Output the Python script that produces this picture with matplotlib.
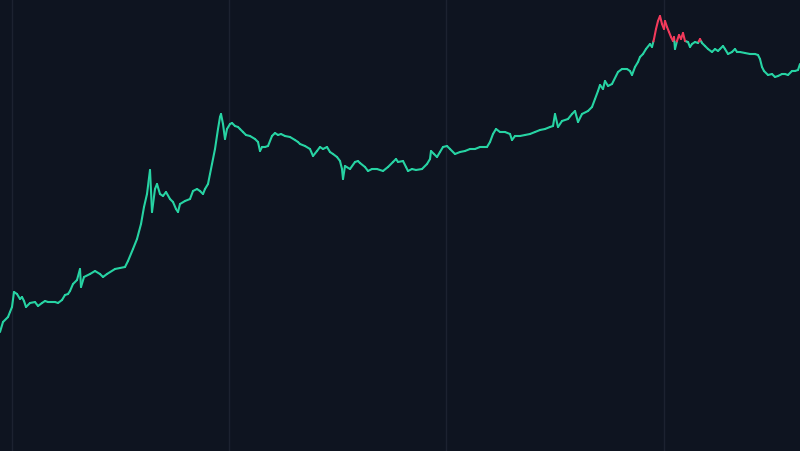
import numpy as np
import matplotlib.pyplot as plt
from matplotlib.collections import LineCollection

# time position (screen-ish units) and price level
t = [0, 3, 8, 10, 12, 14, 17, 20, 22, 24, 26, 30, 35, 38, 42, 45, 48, 52, 55, 58,
     62, 65, 68, 70, 73, 77, 80, 81, 84, 90, 95, 100, 103, 107, 115, 120, 125, 128,
     133, 137, 141, 144, 147, 150, 152, 155, 157, 160, 163, 166, 170, 173, 176, 178,
     180, 185, 190, 193, 197, 200, 203, 205, 208, 210, 212, 215, 218, 220, 221, 223,
     225, 227, 230, 232, 235, 238, 240, 243, 246, 250, 255, 258, 260, 262, 265, 268,
     272, 275, 278, 281, 285, 290, 295, 298, 300, 305, 310, 313, 317, 320, 323, 327,
     330, 333, 337, 340, 342, 343, 345, 350, 355, 358, 360, 365, 368, 372, 377, 383,
     388, 393, 396, 398, 403, 406, 408, 412, 416, 422, 427, 430, 431, 434, 437, 440,
     443, 447, 450, 455, 460, 465, 470, 475, 480, 487, 490, 493, 496, 500, 505, 510,
     512, 515, 520, 525, 530, 535, 540, 545, 550, 553, 555, 558, 562, 568, 572, 575,
     578, 582, 588, 592, 595, 598, 600, 603, 605, 608, 612, 618, 622, 627, 630, 632,
     635, 638, 640, 643, 646, 650, 652, 654, 656, 658, 660, 662, 664, 665, 667, 669,
     671, 673, 674, 675, 677, 679, 681, 683, 685, 688, 690, 692, 695, 698, 700, 702,
     705, 708, 712, 715, 718, 720, 723, 725, 728, 732, 735, 737, 740, 745, 750, 755,
     758, 760, 762, 764, 768, 772, 775, 778, 782, 785, 788, 792, 795, 798, 800]
y_px = [333, 323, 318, 313, 308, 293, 295, 300, 298, 302, 308, 304, 303, 307, 304, 302, 303, 303, 303, 304,
        301, 296, 295, 292, 285, 281, 270, 288, 278, 275, 272, 275, 278, 275, 270, 269, 268, 262,
        250, 240, 225, 208, 195, 171, 213, 190, 185, 195, 197, 193, 200, 203, 210, 213,
        205, 202, 200, 192, 190, 192, 195, 190, 185, 175, 165, 150, 130, 118, 115, 125,
        140, 130, 125, 124, 127, 128, 130, 133, 136, 137, 140, 143, 152, 148, 148, 147,
        137, 134, 136, 135, 137, 138, 141, 143, 145, 147, 150, 157, 152, 148, 150, 148,
        153, 155, 158, 162, 170, 180, 167, 170, 163, 162, 164, 168, 172, 170, 170, 172,
        168, 163, 160, 163, 162, 168, 172, 170, 171, 170, 165, 160, 152, 155, 158, 153,
        148, 147, 150, 155, 153, 152, 150, 150, 148, 148, 143, 135, 130, 133, 133, 135,
        141, 137, 137, 136, 135, 133, 131, 130, 128, 127, 115, 128, 122, 120, 115, 112,
        123, 115, 112, 108, 100, 92, 86, 90, 82, 87, 85, 73, 70, 70, 72, 76,
        68, 63, 58, 55, 50, 45, 48, 40, 30, 22, 17, 25, 30, 22, 28, 33,
        38, 42, 38, 50, 42, 36, 40, 34, 42, 43, 48, 45, 43, 44, 40, 44,
        47, 50, 53, 50, 52, 50, 47, 50, 55, 53, 50, 53, 53, 54, 55, 55,
        56, 60, 68, 72, 76, 75, 78, 77, 75, 75, 76, 72, 72, 71, 65]
price = [452 - v for v in y_px]
threshold = 452 - 42.5
year_marks = [12, 229, 446, 664]

GREEN = '#27d3a3'
RED = '#f23a5b'
BG = '#0e1420'

# split line at the threshold so each piece gets one colour
x = np.array(t, dtype=float)
p = np.array(price, dtype=float)
xs, ps = [x[0]], [p[0]]
for i in range(1, len(x)):
    a, b = p[i - 1] - threshold, p[i] - threshold
    if a * b < 0:
        f = a / (a - b)
        xs.append(x[i - 1] + f * (x[i] - x[i - 1]))
        ps.append(threshold)
    xs.append(x[i])
    ps.append(p[i])
xs, ps = np.array(xs), np.array(ps)
pts = np.column_stack([xs, ps]).reshape(-1, 1, 2)
segs = np.concatenate([pts[:-1], pts[1:]], axis=1)
mid = (ps[:-1] + ps[1:]) / 2
colors = [RED if m > threshold else GREEN for m in mid]

fig = plt.figure(figsize=(8, 4.52), dpi=100, facecolor=BG)
ax = fig.add_axes([0, 0, 1, 1], facecolor=BG)
for xm in year_marks:
    ax.axvline(xm, color='#1c2230', lw=1.0, zorder=0)
lc = LineCollection(segs, colors=colors, linewidths=1.5, capstyle='round', joinstyle='round')
ax.add_collection(lc)
ax.set_xlim(0, 800)
ax.set_ylim(0, 452)
ax.set_axis_off()
fig.savefig('out.png', dpi=100, facecolor=BG)
